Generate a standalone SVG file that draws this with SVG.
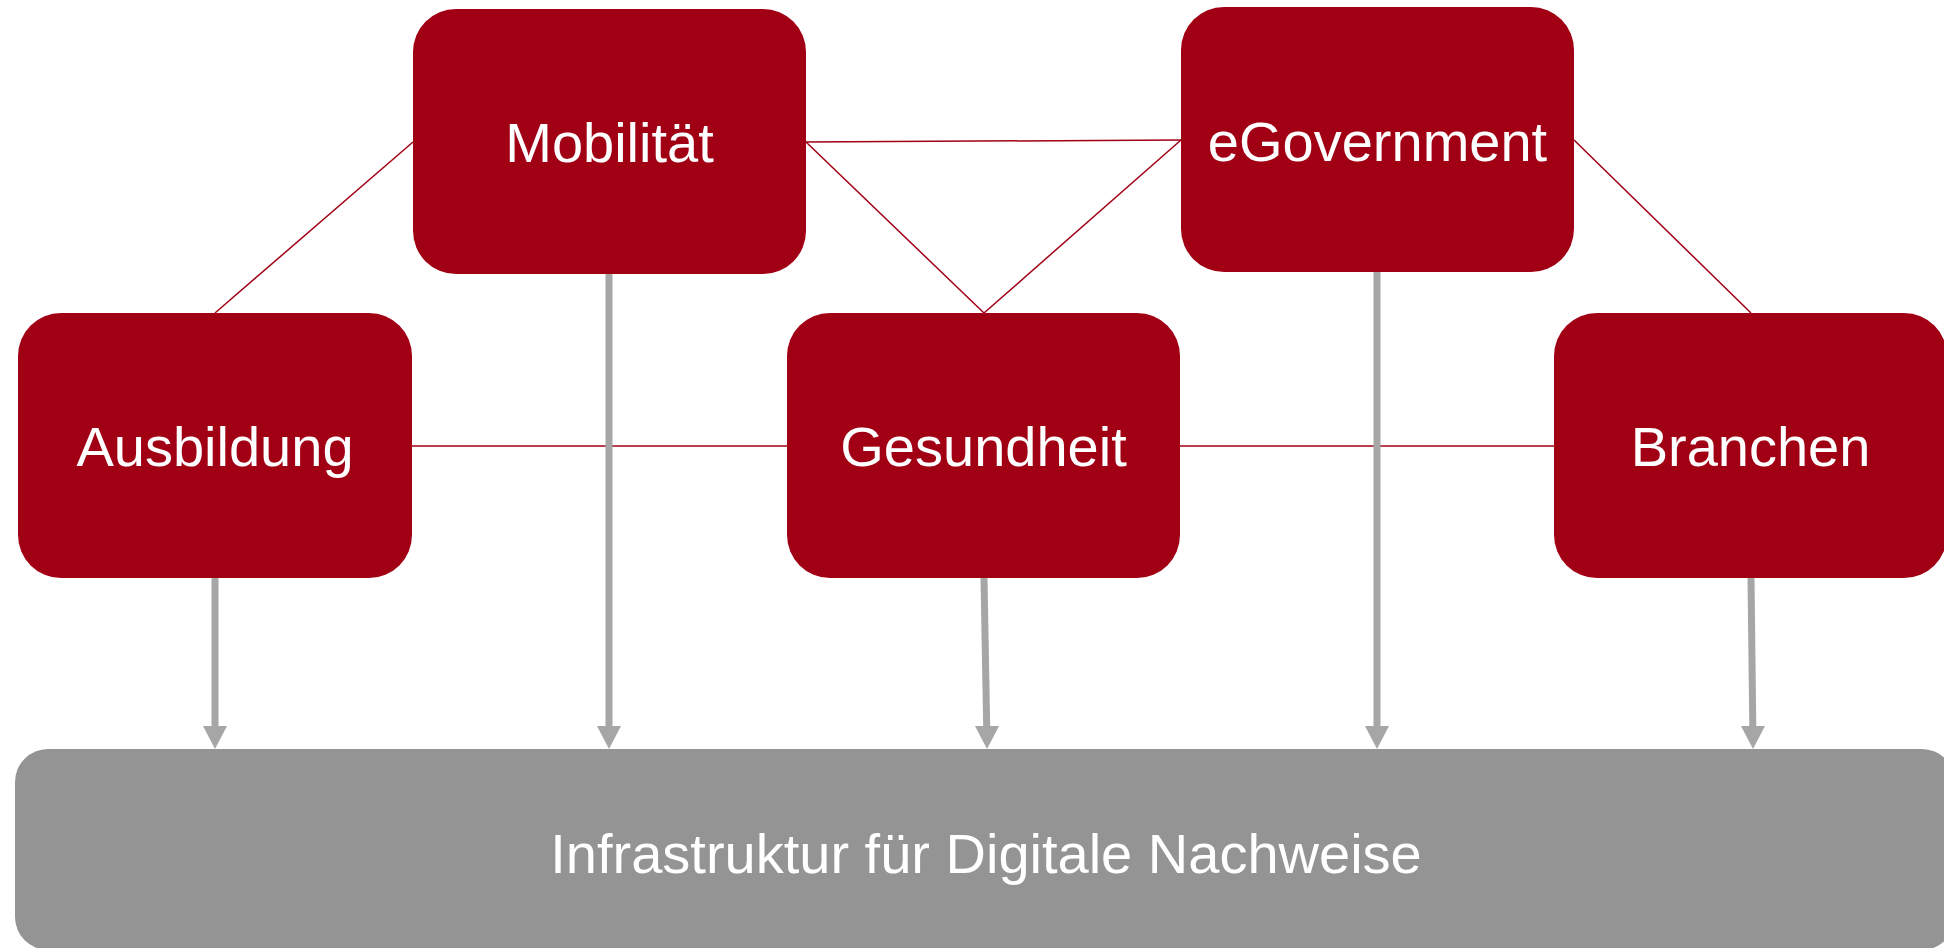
<svg xmlns="http://www.w3.org/2000/svg" width="1944" height="948" viewBox="0 0 1944 948">
<style>
.node rect{fill:#a10014;}
.node text{fill:#ffffff;font-family:"Liberation Sans",Arial,sans-serif;font-size:56px;text-anchor:middle;}
.infra rect{fill:#949494;}
.rel{stroke:#a10014;stroke-width:1.5;fill:none;}
.flow{stroke:#a6a6a6;stroke-width:7;fill:none;}
.head{fill:#a6a6a6;}
</style>
<rect width="1944" height="948" fill="#ffffff"/>
<g id="connectors">
<line class="rel" x1="215" y1="313" x2="413" y2="142"/>
<line class="rel" x1="806" y1="142" x2="1181" y2="140"/>
<line class="rel" x1="806" y1="142" x2="984" y2="313"/>
<line class="rel" x1="1181" y1="140" x2="984" y2="313"/>
<line class="rel" x1="1574" y1="140" x2="1751" y2="313"/>
<line class="rel" x1="412" y1="446" x2="787" y2="446"/>
<line class="rel" x1="1180" y1="446" x2="1554" y2="446"/>
<path class="flow" d="M215,578 L215,727"/>
<path class="head" d="M203,726 L227,726 L215,749 Z"/>
<path class="flow" d="M609,274 L609,727"/>
<path class="head" d="M597,726 L621,726 L609,749 Z"/>
<path class="flow" d="M984,578 L986.7,727"/>
<path class="head" d="M975,726 L999,726 L987,749 Z"/>
<path class="flow" d="M1377,272 L1377,727"/>
<path class="head" d="M1365,726 L1389,726 L1377,749 Z"/>
<path class="flow" d="M1751,578 L1752.8,727"/>
<path class="head" d="M1741,726 L1765,726 L1753,749 Z"/>
</g>
<g id="node-mobilitaet" class="node">
<rect x="413" y="9" width="393" height="265" rx="43" ry="43"/>
<text x="609.5" y="162">Mobilität</text>
</g>
<g id="node-egovernment" class="node">
<rect x="1181" y="7" width="393" height="265" rx="43" ry="43"/>
<text x="1377.5" y="161">eGovernment</text>
</g>
<g id="node-ausbildung" class="node">
<rect x="18" y="313" width="394" height="265" rx="43" ry="43"/>
<text x="215" y="466">Ausbildung</text>
</g>
<g id="node-gesundheit" class="node">
<rect x="787" y="313" width="393" height="265" rx="43" ry="43"/>
<text x="983.5" y="466">Gesundheit</text>
</g>
<g id="node-branchen" class="node">
<rect x="1554" y="313" width="393" height="265" rx="43" ry="43"/>
<text x="1750.5" y="466">Branchen</text>
</g>
<g id="node-infrastruktur" class="node infra">
<rect x="15" y="749" width="1940" height="201" rx="33" ry="33"/>
<text x="986" y="873">Infrastruktur für Digitale Nachweise</text>
</g>
</svg>
